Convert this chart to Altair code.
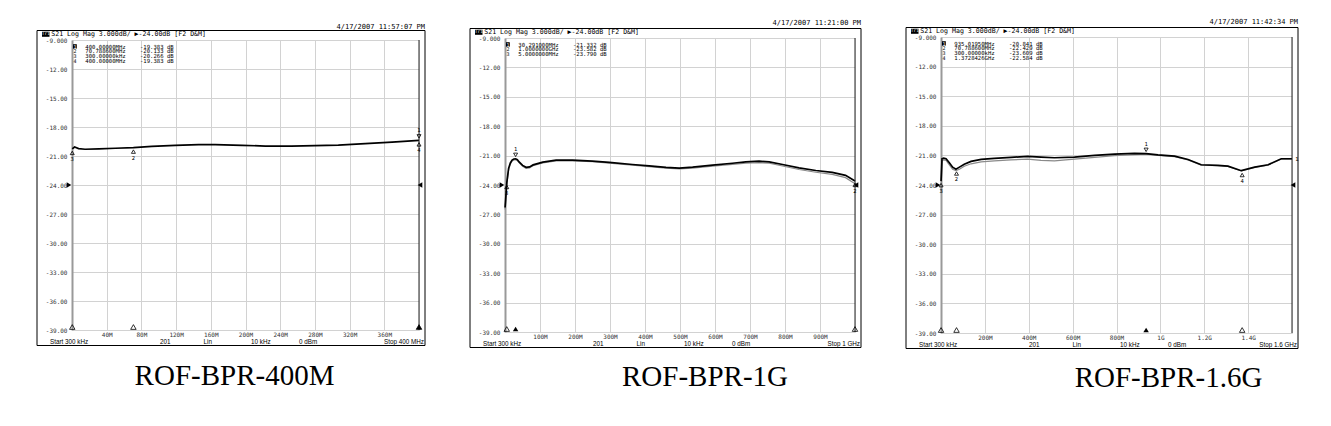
import altair as alt
import pandas as pd

MONO = "DejaVu Sans Mono"
SANS = "Liberation Sans"
SERIF = "Liberation Serif"

# ---------------- data ----------------
y_ticks = [-9, -12, -15, -18, -21, -24, -27, -30, -33, -36, -39]
y_tick_labels = ["-9.000", "-12.00", "-15.00", "-18.00", "-21.00", "-24.00",
                 "-27.00", "-30.00", "-33.00", "-36.00", "-39.00"]
ref_level = -24.0

# Panel 1 : ROF-BPR-400M
p1_freq = [0.3, 3, 7.6, 15, 31, 50, 70.8, 92, 119, 146, 165, 196, 223, 253,
           280, 307, 338, 369, 400]
p1_black = [-20.27, -20.07, -20.23, -20.3, -20.27, -20.2, -20.13, -20.0, -19.9,
            -19.83, -19.83, -19.9, -19.97, -19.97, -19.93, -19.87, -19.73,
            -19.57, -19.38]
p1_xticks = [40, 80, 120, 160, 200, 240, 280, 320, 360]
p1_xlabels = ["40M", "80M", "120M", "160M", "200M", "240M", "280M", "320M", "360M"]
p1_mk_num = [1, 2, 3, 4]
p1_mk_freq = [400.0, 70.7886, 0.3, 400.0]
p1_mk_db = [-19.383, -20.133, -20.266, -19.383]
p1_mk_ftxt = ["400.00000MHz", "70.788600MHz", "300.00000kHz", "400.00000MHz"]
p1_mk_dtxt = ["-19.383 dB", "-20.133 dB", "-20.266 dB", "-19.383 dB"]

# Panel 2 : ROF-BPR-1G
p2_freq = [0.3, 5.3, 10.3, 15.3, 20.3, 25.3, 30.3, 35.3, 40.3, 50.3, 60.3, 70.3,
           80.3, 108, 146, 193, 250, 298, 364, 412, 460, 498, 536, 593, 650, 688,
           726, 755, 793, 840, 888, 935, 973, 1000]
p2_black = [-26.3, -23.7, -22.3, -21.75, -21.45, -21.35, -21.33, -21.42, -21.65,
            -22.0, -22.2, -22.15, -21.95, -21.67, -21.47, -21.47, -21.57, -21.7,
            -21.91, -22.04, -22.2, -22.28, -22.18, -21.98, -21.78, -21.64, -21.57,
            -21.64, -21.91, -22.25, -22.52, -22.72, -23.02, -23.6]
p2_gray = [-26.5, -23.9, -22.45, -21.85, -21.55, -21.45, -21.42, -21.5, -21.72,
           -22.08, -22.3, -22.25, -22.02, -21.75, -21.55, -21.53, -21.63, -21.77,
           -21.98, -22.12, -22.28, -22.36, -22.27, -22.08, -21.9, -21.78, -21.72,
           -21.78, -22.06, -22.42, -22.7, -22.92, -23.25, -23.88]
p2_xticks = [100, 200, 300, 400, 500, 600, 700, 800, 900]
p2_xlabels = ["100M", "200M", "300M", "400M", "500M", "600M", "700M", "800M", "900M"]
p2_mk_num = [1, 2, 3]
p2_mk_freq = [30.291, 1000.0, 5.0]
p2_mk_db = [-21.332, -23.582, -23.790]
p2_mk_ftxt = ["30.291000MHz", "1.0000000GHz", "5.0000000MHz"]
p2_mk_dtxt = ["-21.332 dB", "-23.582 dB", "-23.790 dB"]

# Panel 3 : ROF-BPR-1.6G
p3_freq = [0.3, 4.6, 12, 23, 38, 53, 68, 84, 106, 137, 183, 243, 319, 395, 456,
           517, 608, 700, 791, 882, 935, 989, 1065, 1126, 1186, 1262, 1308, 1369,
           1430, 1491, 1551, 1600]
p3_black = [-23.61, -21.34, -21.27, -21.34, -21.75, -22.19, -22.4, -22.19, -21.89,
            -21.61, -21.41, -21.31, -21.2, -21.1, -21.17, -21.24, -21.17, -21.0,
            -20.88, -20.8, -20.82, -20.95, -21.07, -21.41, -21.95, -22.02, -22.09,
            -22.55, -22.19, -21.95, -21.34, -21.34]
p3_gray = [-24.8, -21.5, -21.45, -21.5, -21.95, -22.4, -22.55, -22.4, -22.1,
           -21.85, -21.65, -21.55, -21.45, -21.38, -21.5, -21.55, -21.38, -21.2,
           -21.03, -20.92, -20.88, -21.0, -21.12, -21.45, -21.98, -22.05, -22.12,
           -22.58, -22.22, -21.98, -21.37, -21.37]
p3_xticks = [200, 400, 600, 800, 1000, 1200, 1400]
p3_xlabels = ["200M", "400M", "600M", "800M", "1G", "1.2G", "1.4G"]
p3_mk_num = [1, 2, 3, 4]
p3_mk_freq = [935.0195, 70.7886, 0.3, 1372.8426]
p3_mk_db = [-20.841, -22.429, -23.609, -22.584]
p3_mk_ftxt = ["935.01950MHz", "70.788600MHz", "300.00000kHz", "1.3728426GHz"]
p3_mk_dtxt = ["-20.841 dB", "-22.429 dB", "-23.609 dB", "-22.584 dB"]

header_txt = "S21 Log Mag 3.000dB/ \u25b6-24.00dB [F2 D&M]"
footer_mid = ["201", "Lin", "10 kHz", "0 dBm"]
footer_start = "Start 300 kHz"
stops = ["Stop 400 MHz", "Stop 1 GHz", "Stop 1.6 GHz"]
stop_freqs = [400, 1000, 1600]
timestamps = ["4/17/2007 11:57:07 PM", "4/17/2007 11:21:00 PM", "4/17/2007 11:42:34 PM"]
captions = ["ROF-BPR-400M", "ROF-BPR-1G", "ROF-BPR-1.6G"]

GRID = "#d2d2d2"


def label_expr(vals, labels):
    parts = []
    for v, l in zip(vals, labels):
        parts.append(f"datum.value == {v} ? '{l}' : ")
    return "".join(parts) + "''"


def one():
    return alt.Data(values=[{"k": 0}])


def txt(text, x, y, size=6.5, font=MONO, align="left", color="black", baseline="middle"):
    return alt.Chart(one()).mark_text(
        text=text, font=font, fontSize=size, align=align, baseline=baseline, color=color
    ).encode(x=alt.value(x), y=alt.value(y))


def box(x1, x2, y1, y2, fill="black", stroke=None, fo=1.0, sw=1):
    kw = dict(fill=fill, fillOpacity=fo)
    if stroke:
        kw.update(stroke=stroke, strokeWidth=sw)
    return alt.Chart(one()).mark_rect(**kw).encode(
        x=alt.value(x1), x2=alt.value(x2), y=alt.value(y1), y2=alt.value(y2))


def panel(freq, black, gray, stop, xt, xl, mk_num, mk_freq, mk_db, mk_ftxt, mk_dtxt,
          W, H, stop_txt, ts, ts_y, caption, cap_x, cap_y, trace_label=False):
    xs = alt.Scale(domain=[0, stop], nice=False, zero=False)
    ys = alt.Scale(domain=[-39, -9], nice=False, zero=False)
    xax = alt.Axis(values=xt, labelExpr=label_expr(xt, xl), grid=True, ticks=False,
                   domain=False, title=None, labelFont=MONO, labelFontSize=6,
                   labelColor="#333", labelPadding=1, labelOverlap=False,
                   labelFlush=False, gridColor=GRID, gridWidth=1, tickCount=30)
    yax = alt.Axis(values=y_ticks, labelExpr=label_expr(y_ticks, y_tick_labels),
                   grid=True, ticks=False, domain=True, domainColor="#999",
                   domainWidth=2, title=None, labelFont=MONO, labelFontSize=6,
                   labelColor="#333", labelPadding=5, gridColor=GRID, gridWidth=1,
                   labelFlush=False, labelOverlap=False, tickCount=30)

    layers = []
    # outer frame
    layers.append(box(-35, W + 6, -9.5, H + 15.5, fill="white", stroke="black", fo=0))

    dfb = pd.DataFrame({"f": freq, "db": black})
    base = alt.Chart(dfb).mark_line(color="black", strokeWidth=1.7).encode(
        x=alt.X("f:Q", scale=xs, axis=xax), y=alt.Y("db:Q", scale=ys, axis=yax))
    if gray is not None:
        dfg = pd.DataFrame({"f": freq, "db": gray})
        layers.append(alt.Chart(dfg).mark_line(color="#8a8a8a", strokeWidth=1.2).encode(
            x=alt.X("f:Q", scale=xs, axis=xax), y=alt.Y("db:Q", scale=ys, axis=yax)))
    layers.append(base)

    # right edge
    layers.append(alt.Chart(one()).mark_rule(color="#222", strokeWidth=1).encode(
        x=alt.value(W), y=alt.value(0), y2=alt.value(H)))

    # reference level arrows
    ref = pd.DataFrame({"f": [0, stop], "db": [ref_level, ref_level], "s": ["l", "r"]})
    layers.append(alt.Chart(ref).transform_filter("datum.s == 'l'").mark_point(
        shape="triangle-right", filled=True, color="black", size=28, xOffset=-3, opacity=1
    ).encode(x=alt.X("f:Q", scale=xs), y=alt.Y("db:Q", scale=ys)))
    layers.append(alt.Chart(ref).transform_filter("datum.s == 'r'").mark_point(
        shape="triangle-left", filled=True, color="black", size=28, xOffset=1, opacity=1
    ).encode(x=alt.X("f:Q", scale=xs), y=alt.Y("db:Q", scale=ys)))

    mk = pd.DataFrame({"num": mk_num, "f": mk_freq, "db": mk_db})
    mk["lab"] = mk["num"].astype(str)
    enc = dict(x=alt.X("f:Q", scale=xs), y=alt.Y("db:Q", scale=ys))
    # markers on trace
    layers.append(alt.Chart(mk).transform_filter("datum.num == 1").mark_point(
        shape="triangle-down", filled=False, color="black", size=16, strokeWidth=0.8,
        yOffset=-4, opacity=1).encode(**enc))
    layers.append(alt.Chart(mk).transform_filter("datum.num == 1").mark_text(
        font=MONO, fontSize=5.5, dy=-10, color="black").encode(text="lab:N", **enc))
    layers.append(alt.Chart(mk).transform_filter("datum.num != 1").mark_point(
        shape="triangle-up", filled=False, color="black", size=16, strokeWidth=0.8,
        yOffset=4, opacity=1).encode(**enc))
    layers.append(alt.Chart(mk).transform_filter("datum.num != 1").mark_text(
        font=MONO, fontSize=5.5, dy=10, color="black").encode(text="lab:N", **enc))
    # markers on bottom axis
    layers.append(alt.Chart(mk).transform_filter("datum.num != 1").mark_point(
        shape="triangle-up", filled=False, color="black", size=30, strokeWidth=0.8,
        opacity=1).encode(x=alt.X("f:Q", scale=xs), y=alt.value(H - 3)))
    layers.append(alt.Chart(mk).transform_filter("datum.num == 1").mark_point(
        shape="triangle-up", filled=True, color="black", size=30, opacity=1
    ).encode(x=alt.X("f:Q", scale=xs), y=alt.value(H - 3)))

    if trace_label:
        tl = pd.DataFrame({"f": [freq[-1]], "db": [black[-1]], "t": ["1"]})
        layers.append(alt.Chart(tl).mark_text(font=MONO, fontSize=5.5, dx=5, color="black"
                                              ).encode(text="t:N", **enc))

    # marker table
    for i, (n, ft, dt) in enumerate(zip(mk_num, mk_ftxt, mk_dtxt)):
        yy = 6.5 + i * 4.7
        if n == 1:
            layers.append(box(1, 4.8, yy - 2.3, yy + 2.2))
            layers.append(txt(str(n), 2.9, yy, size=5, align="center", color="white"))
        else:
            layers.append(txt(str(n), 2.9, yy, size=5, align="center"))
        layers.append(txt(ft, 13.3, yy, size=5.6))
        layers.append(txt(dt, 68, yy, size=5.6))

    # header
    layers.append(box(-30, -22.5, -8.3, -3.2))
    layers.append(txt("Tr1", -26.2, -5.7, size=4.5, align="center", color="white"))
    layers.append(txt(header_txt, -20.8, -5.7, size=6.6))
    # timestamp
    layers.append(txt(ts, W + 6, ts_y, size=7, align="right"))
    # footer
    fy = H + 11.8
    layers.append(txt(footer_start, -22, fy, size=6.3, font=SANS))
    for t, fx in zip(footer_mid, [88, 131.5, 179, 227]):
        layers.append(txt(t, fx, fy, size=6.3, font=SANS))
    layers.append(txt(stop_txt, W + 5, fy, size=6.3, font=SANS, align="right"))
    # caption
    layers.append(txt(caption, cap_x, H + cap_y, size=29, font=SERIF, align="center",
                      baseline="alphabetic"))

    return alt.layer(*layers).properties(width=W, height=H)


c1 = panel(p1_freq, p1_black, None, stop_freqs[0], p1_xticks, p1_xlabels, p1_mk_num,
           p1_mk_freq, p1_mk_db, p1_mk_ftxt, p1_mk_dtxt, 347, 290, stops[0],
           timestamps[0], -13, captions[0], 162.5, 55)
c2 = panel(p2_freq, p2_black, p2_gray, stop_freqs[1], p2_xticks, p2_xlabels, p2_mk_num,
           p2_mk_freq, p2_mk_db, p2_mk_ftxt, p2_mk_dtxt, 350, 294, stops[1],
           timestamps[1], -15, captions[1], 200, 54)
c3 = panel(p3_freq, p3_black, p3_gray, stop_freqs[2], p3_xticks, p3_xlabels, p3_mk_num,
           p3_mk_freq, p3_mk_db, p3_mk_ftxt, p3_mk_dtxt, 351, 296, stops[2],
           timestamps[2], -15, captions[2], 227.5, 54, trace_label=True)

chart = alt.hconcat(c1, c2, c3, spacing=86, bounds="flush", center=True).properties(
    padding={"left": 28, "top": 9, "right": 5, "bottom": 5}
).configure_view(stroke="#b8b8b8", strokeWidth=1).configure(background="white")

chart.save("out.html", embed_options={"renderer": "svg", "actions": False})
